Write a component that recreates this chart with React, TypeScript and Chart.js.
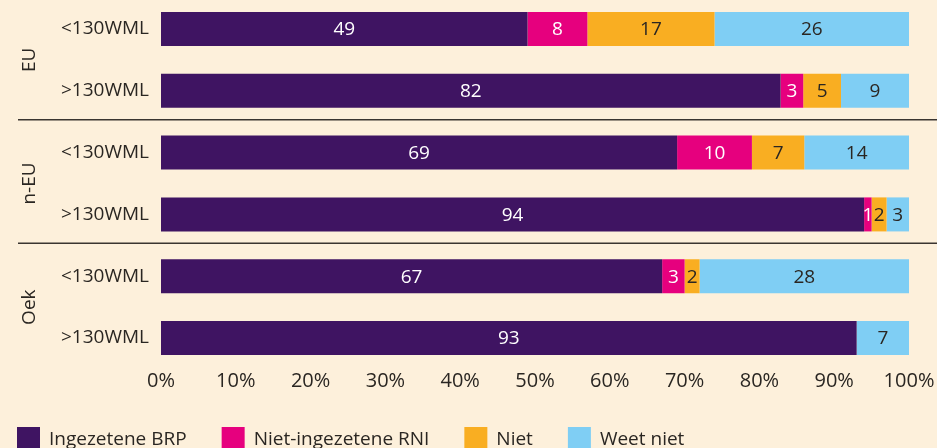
import React, { useEffect, useRef } from "react";
import { Chart, registerables } from "chart.js";

Chart.register(...registerables);

const categories = ["<130WML", ">130WML", "<130WML", ">130WML", "<130WML", ">130WML"];
const groups = ["EU", "n-EU", "Oek"];
const seriesNames = ["Ingezetene BRP", "Niet-ingezetene RNI", "Niet", "Weet niet"];
const ingezeteneBRP = [49, 82, 69, 94, 67, 93];
const nietIngezeteneRNI = [8, 3, 10, 1, 3, 0];
const niet = [17, 5, 7, 2, 2, 0];
const weetNiet = [26, 9, 14, 3, 28, 7];
const xTicks = [0, 10, 20, 30, 40, 50, 60, 70, 80, 90, 100];

const BG = "#FDF0DB";
const TEXT = "#2A2622";
const FONT = "'Open Sans', 'Noto Sans', sans-serif";
const colors = ["#3F1462", "#E6007E", "#F9AE22", "#7FCEF4"];
const labelColors = ["#FFFFFF", "#FFFFFF", TEXT, TEXT];

export default function App() {
  const ref = useRef<HTMLCanvasElement | null>(null);

  useEffect(() => {
    document.body.style.background = BG;
    const raw = [ingezeteneBRP, nietIngezeteneRNI, niet, weetNiet];
    const totals = categories.map((_, i) => raw.reduce((s, arr) => s + arr[i], 0));

    const bgPlugin = {
      id: "bg",
      beforeDraw(chart: any) {
        const c = chart.ctx;
        c.save();
        c.fillStyle = BG;
        c.fillRect(0, 0, chart.width, chart.height);
        c.restore();
      },
    };

    const overlay = {
      id: "overlay",
      afterDatasetsDraw(chart: any) {
        const c = chart.ctx;
        c.save();
        c.font = `19px ${FONT}`;
        c.textAlign = "center";
        c.textBaseline = "middle";
        chart.data.datasets.forEach((ds: any, di: number) => {
          const meta = chart.getDatasetMeta(di);
          meta.data.forEach((el: any, i: number) => {
            const v = raw[di][i];
            if (!v) return;
            const p = el.getProps(["x", "y", "base"], true);
            c.fillStyle = labelColors[di];
            c.fillText(String(v), (p.x + p.base) / 2, p.y + 1);
          });
        });
        c.restore();
      },
      afterDraw(chart: any) {
        const c = chart.ctx;
        const y = chart.scales.y;
        c.save();
        // separators
        c.strokeStyle = "#3A3530";
        c.lineWidth = 1.5;
        for (let g = 1; g < groups.length; g++) {
          const yy = (y.getPixelForValue(2 * g - 1) + y.getPixelForValue(2 * g)) / 2 - 2;
          c.beginPath();
          c.moveTo(18, yy);
          c.lineTo(chart.width, yy);
          c.stroke();
        }
        // group labels
        c.fillStyle = TEXT;
        c.font = `19px ${FONT}`;
        c.textAlign = "center";
        c.textBaseline = "middle";
        groups.forEach((g, gi) => {
          const yy = (y.getPixelForValue(2 * gi) + y.getPixelForValue(2 * gi + 1)) / 2;
          c.save();
          c.translate(30, yy);
          c.rotate(-Math.PI / 2);
          c.fillText(g, 0, 0);
          c.restore();
        });
        // legend
        let x = 17;
        const boxTop = 429;
        c.textAlign = "left";
        c.textBaseline = "alphabetic";
        chart.data.datasets.forEach((ds: any) => {
          c.fillStyle = ds.backgroundColor;
          c.fillRect(x, boxTop, 23, 23);
          x += 23 + 9;
          c.fillStyle = TEXT;
          c.fillText(ds.label, x, 447);
          x += c.measureText(ds.label).width + 35;
        });
        c.restore();
      },
    };

    const chart = new Chart(ref.current as HTMLCanvasElement, {
      type: "bar",
      data: {
        labels: categories,
        datasets: seriesNames.map((name, di) => ({
          label: name,
          data: raw[di].map((v, i) => (v / totals[i]) * 100),
          backgroundColor: colors[di],
          borderWidth: 0,
          barPercentage: 0.55,
          categoryPercentage: 1,
        })),
      },
      options: {
        indexAxis: "y",
        animation: false,
        responsive: false,
        maintainAspectRatio: false,
        layout: { padding: { top: 0, left: 0, right: 28, bottom: 49 } },
        plugins: { legend: { display: false }, tooltip: { enabled: false } },
        scales: {
          x: {
            stacked: true,
            min: 0,
            max: 100,
            afterBuildTicks(s: any) {
              s.ticks = xTicks.map((v) => ({ value: v }));
            },
            afterFit(s: any) {
              s.height = 30;
            },
            ticks: {
              callback: (v: any) => v + "%",
              font: { family: FONT, size: 20 },
              color: TEXT,
              padding: 0,
              maxRotation: 0,
            },
            grid: { display: false, drawTicks: false },
            border: { display: false },
          },
          y: {
            stacked: true,
            afterFit(s: any) {
              s.width = 161;
              s.paddingTop = 0;
              s.paddingBottom = 0;
            },
            ticks: {
              font: { family: FONT, size: 19 },
              color: TEXT,
              padding: 12,
            },
            grid: { display: false, drawTicks: false },
            border: { display: false },
          },
        },
      },
      plugins: [bgPlugin, overlay],
    } as any);
    return () => chart.destroy();
  }, []);

  return (
    <div style={{ position: "absolute", left: 0, top: -2, width: 937, height: 450 }}>
      <canvas ref={ref} width={937} height={450} style={{ display: "block", width: 937, height: 450 }} />
    </div>
  );
}
